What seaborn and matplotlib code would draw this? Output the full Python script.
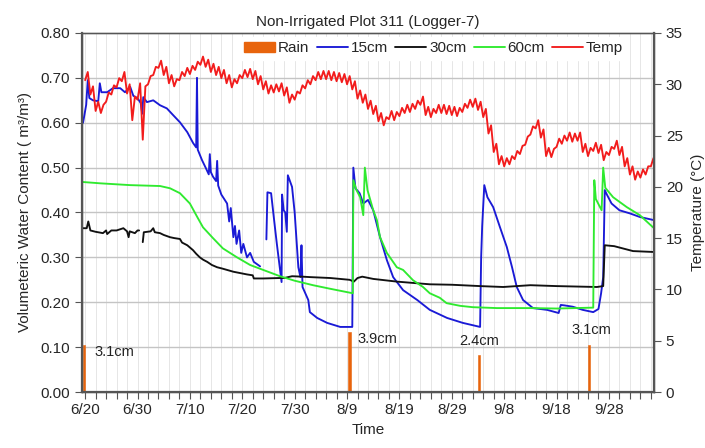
import numpy as np
import pandas as pd
import matplotlib
matplotlib.use("Agg")
import matplotlib.pyplot as plt
from matplotlib.patches import Patch
from matplotlib.lines import Line2D
import seaborn as sns

# ---------------- data (day 0 = 6/20) ----------------
tick_days = [0, 10, 20, 30, 40, 50, 60, 70, 80, 90, 100]
tick_labels = ["6/20", "6/30", "7/10", "7/20", "7/30", "8/9", "8/19", "8/29", "9/8", "9/18", "9/28"]

rain_days = [-0.2, 50.5, 75.2, 96.2]
rain_cm = [3.1, 3.9, 2.4, 3.1]
rain_labels = ["3.1cm", "3.9cm", "2.4cm", "3.1cm"]

nan = np.nan
days_15 = [-0.4, 0.2, 0.5, 0.8, 1.5, 2.5, 2.8, 3.1, 4.2, 5.3, 6.7, 7.6, 8.6, 9.2, 10.0, 10.6, 10.9, 11.1,
           11.8, 13.0, 14.3, 15.6, 16.8, 18.1, 19.5, 20.6, 21.2, 21.35, 21.5, 22.3, 23.0, 23.6, 23.8, 24.0,
           24.4, 25.0, 25.2, 25.4, 26.0, 27.1, 27.5, 27.8, 28.3, 28.6, 28.9, 29.4, 29.8, 30.2, 30.9, 31.5,
           32.2, 33.4, 34.0, 34.6, 34.8, 35.5, 36.3, 36.6, 37.5, 37.6, 37.9, 38.2, 38.5, 38.7, 39.5, 40.0,
           40.7, 41.1, 41.3, 41.5, 42.6, 42.9, 44.3, 46.2, 48.7, 51.0, 51.2, 51.6, 52.4, 53.1, 54.0, 55.0,
           56.3, 57.6, 58.8, 60.7, 63.4, 65.8, 69.1, 72.1, 75.4, 75.6, 75.8, 76.2, 76.8, 77.9, 79.2, 80.5,
           81.5, 82.4, 83.6, 85.5, 88.2, 90.4, 90.8, 91.5, 93.1, 95.0, 97.0, 98.0, 98.5, 98.9, 99.2, 99.6,
           100.5, 102.0, 104.0, 105.9, 108.6]
vwc_15 = [0.600, 0.640, 0.695, 0.655, 0.650, 0.648, 0.688, 0.668, 0.668, 0.677, 0.677, 0.668, 0.680, 0.660,
          0.655, 0.644, 0.620, 0.657, 0.646, 0.650, 0.639, 0.632, 0.617, 0.601, 0.579, 0.555, 0.545, 0.700,
          0.540, 0.517, 0.500, 0.485, 0.530, 0.490, 0.480, 0.470, 0.515, 0.460, 0.440, 0.420, 0.380, 0.410,
          0.345, 0.370, 0.330, 0.360, 0.310, 0.330, 0.300, 0.310, 0.290, 0.280, nan, 0.340, 0.445, 0.443,
          0.360, 0.330, 0.245, 0.440, 0.405, 0.400, 0.357, 0.483, 0.457, 0.400, 0.278, 0.256, 0.327, 0.234,
          0.205, 0.178, 0.165, 0.154, 0.145, 0.145, 0.500, 0.454, 0.443, 0.420, 0.428, 0.405, 0.345, 0.294,
          0.256, 0.227, 0.205, 0.183, 0.165, 0.154, 0.145, 0.300, 0.370, 0.461, 0.434, 0.412, 0.367, 0.323,
          0.278, 0.234, 0.205, 0.187, 0.183, 0.176, 0.194, 0.193, 0.190, 0.183, 0.178, 0.185, 0.220, 0.256,
          0.450, 0.440, 0.420, 0.405, 0.398, 0.390, 0.383]

days_30 = [-0.4, 0.3, 0.6, 1.0, 2.0, 3.4, 4.0, 4.2, 5.0, 6.0, 7.3, 8.0, 8.3, 8.5, 9.5, 10.0, 10.3, 10.6,
           11.0, 11.2, 12.5, 13.0, 13.3, 14.3, 15.0, 16.2, 17.0, 18.1, 18.5, 19.5, 20.0, 20.6, 21.2, 21.9,
           22.5, 23.3, 24.2, 25.2, 26.2, 27.1, 28.3, 29.6, 30.9, 32.0, 32.2, 34.0, 37.2, 38.0, 39.5, 41.5,
           43.0, 46.8, 50.5, 51.3, 52.0, 52.9, 55.0, 59.5, 65.8, 70.0, 75.4, 79.8, 85.0, 90.0, 97.7, 98.9,
           99.2, 101.0, 104.6, 108.6]
vwc_30 = [0.365, 0.365, 0.380, 0.360, 0.357, 0.354, 0.360, 0.352, 0.360, 0.360, 0.365, 0.358, 0.345, 0.358,
          0.354, 0.360, 0.360, nan, 0.334, 0.356, 0.358, 0.365, 0.356, 0.354, 0.350, 0.345, 0.343, 0.341,
          0.333, 0.327, 0.322, 0.316, 0.308, 0.300, 0.295, 0.290, 0.283, 0.278, 0.275, 0.272, 0.268, 0.265,
          0.262, 0.260, 0.253, 0.253, 0.254, 0.254, 0.258, 0.257, 0.256, 0.254, 0.250, 0.246, 0.254, 0.257,
          0.252, 0.246, 0.240, 0.239, 0.236, 0.234, 0.238, 0.236, 0.234, 0.236, 0.327, 0.325, 0.314, 0.312]

days_60 = [-0.5, 2.9, 8.6, 14.3, 16.2, 18.1, 20.0, 21.4, 22.5, 24.4, 26.3, 29.0, 31.5, 34.0, 37.2, 40.0,
           43.5, 46.8, 51.1, 51.2, 51.8, 52.5, 53.1, 53.4, 53.9, 55.0, 55.7, 56.3, 57.6, 59.5, 60.7, 62.6,
           64.5, 65.8, 67.7, 69.0, 71.6, 74.0, 78.6, 85.0, 90.0, 97.0, 97.2, 97.5, 98.6, 98.9, 99.3, 100.8,
           103.4, 105.9, 108.6]
vwc_60 = [0.468, 0.465, 0.461, 0.459, 0.454, 0.443, 0.420, 0.390, 0.367, 0.343, 0.320, 0.300, 0.283, 0.272,
          0.258, 0.248, 0.238, 0.230, 0.220, 0.472, 0.450, 0.434, 0.394, 0.500, 0.450, 0.405, 0.383, 0.345,
          0.310, 0.278, 0.272, 0.249, 0.234, 0.220, 0.210, 0.198, 0.192, 0.189, 0.187, 0.187, 0.186, 0.188,
          0.472, 0.430, 0.405, 0.500, 0.455, 0.434, 0.412, 0.394, 0.365]

# temperature, two readings per day (night / afternoon), starting at day 0
temp_start_day = 0.0
temp_step_day = 0.5
temp = [30.4, 31.2, 29.0, 29.8, 27.4, 28.3, 27.2, 28.0, 28.3, 29.2, 29.0, 29.9, 29.7, 30.6, 30.3, 31.2,
        29.1, 30.0, 26.5, 28.8, 28.5, 30.1, 24.6, 29.8, 30.0, 30.8, 30.9, 31.7, 31.6, 32.3, 30.9, 31.7,
        30.1, 30.9, 29.8, 30.5, 30.4, 31.2, 30.8, 31.6, 31.0, 31.8, 31.4, 32.2, 31.9, 32.7, 31.7, 32.4,
        31.2, 32.0, 30.9, 31.7, 30.6, 31.4, 30.1, 30.9, 29.7, 30.5, 30.1, 30.9, 30.6, 31.4, 30.7, 31.5,
        30.5, 31.3, 30.0, 30.8, 29.5, 30.3, 29.1, 29.9, 29.2, 30.0, 29.3, 30.1, 28.9, 29.7, 28.2, 29.0,
        28.5, 29.3, 29.1, 29.9, 29.6, 30.4, 30.0, 30.8, 30.4, 31.2, 30.5, 31.3, 30.5, 31.3, 30.4, 31.2,
        30.3, 31.1, 30.2, 31.0, 30.0, 30.8, 29.5, 30.3, 28.6, 29.4, 28.2, 29.0, 27.6, 28.4, 27.1, 27.9,
        26.4, 27.2, 26.0, 26.8, 26.6, 27.4, 26.5, 27.3, 26.9, 27.7, 27.2, 28.0, 27.3, 28.1, 27.6, 28.4,
        28.0, 28.8, 27.0, 27.8, 26.8, 27.6, 27.2, 28.0, 27.2, 28.0, 27.1, 27.9, 27.0, 27.8, 26.9, 27.7,
        27.3, 28.1, 27.7, 28.5, 27.8, 28.6, 27.5, 28.3, 26.8, 27.6, 25.2, 26.0, 23.4, 24.2, 22.2, 23.0,
        22.0, 22.8, 22.2, 23.0, 22.7, 23.5, 23.2, 24.0, 24.1, 24.9, 25.1, 25.9, 25.7, 26.5, 24.8, 25.6,
        23.0, 23.8, 22.9, 23.7, 23.9, 24.7, 24.2, 25.0, 24.5, 25.3, 24.4, 25.2, 24.5, 25.3, 23.4, 24.2,
        23.0, 23.8, 23.5, 24.3, 23.3, 24.1, 22.6, 23.4, 23.1, 23.9, 23.7, 24.5, 23.1, 23.9, 22.0, 22.8,
        21.2, 22.0, 20.7, 21.5, 20.9, 21.7, 21.2, 22.0, 22.0, 22.8]

# ---------------- style ----------------
sns.set_theme(style="white")
plt.rcParams["font.family"] = ["Liberation Sans", "DejaVu Sans"]

C_RAIN = "#E8640C"
C_15 = "#1A1AD6"
C_30 = "#111111"
C_60 = "#2FEA2F"
C_T = "#F21C1C"
RAIN_SCALE = 0.034   # cm of rain -> height on VWC axis


def segments(days, vals):
    df = pd.DataFrame({"day": days, "v": vals})
    df["seg"] = df["v"].isna().cumsum()
    return df.dropna()


fig = plt.figure(figsize=(7.05, 4.48), dpi=100)
ax = fig.add_axes([82 / 705, 1 - 392 / 448, (654 - 82) / 705, (392 - 33) / 448])
ax2 = ax.twinx()

# grid
for d in np.arange(0, 109, 2):
    ax.axvline(d, color="#e6e6e6", lw=0.7, zorder=0)
for yv in np.arange(0.1, 0.8, 0.1):
    ax.axhline(yv, color="#c4c4c4", lw=1.0, zorder=0)

# rain bars
ax.bar(rain_days, np.array(rain_cm) * RAIN_SCALE, width=0.45, color=C_RAIN,
       edgecolor=C_RAIN, linewidth=0.4, zorder=2)
lab_style = [(1.9, -0.016, "left"), (1.5, -0.015, "left"), (0.0, 0.033, "center"), (0.5, 0.033, "center")]
for d, r, t, (dx, dy, ha) in zip(rain_days, rain_cm, rain_labels, lab_style):
    ax.text(d + dx, r * RAIN_SCALE + dy, t, ha=ha, va="center", fontsize=10.5, color="#222222", zorder=5)

lw = 1.35
for days, vals, col in [(days_15, vwc_15, C_15), (days_30, vwc_30, C_30), (days_60, vwc_60, C_60)]:
    sns.lineplot(data=segments(days, vals), x="day", y="v", units="seg", estimator=None,
                 color=col, lw=lw, ax=ax, legend=False, zorder=3)

temp_days = temp_start_day + temp_step_day * np.arange(len(temp))
sns.lineplot(x=temp_days, y=temp, color=C_T, lw=lw, ax=ax2, legend=False, estimator=None)

# axes
xmin, xmax = -0.6, 108.6
ax.set_xlim(xmin, xmax)
ax.set_ylim(0, 0.8)
ax2.set_ylim(0, 35)
ax.set_xticks(tick_days)
ax.set_xticklabels(tick_labels)
ax.set_xticks(np.arange(0, 109, 2), minor=True)
ax.set_yticks(np.arange(0, 0.81, 0.1))
ax.set_yticklabels([f"{v:.2f}" for v in np.arange(0, 0.81, 0.1)])
ax2.set_yticks(np.arange(0, 36, 5))
ax2.grid(False)

for a in (ax, ax2):
    for s in a.spines.values():
        s.set_color("#555555")
        s.set_linewidth(1.0)
ax.spines["left"].set_linewidth(1.6)
ax2.spines["right"].set_linewidth(1.6)
ax.spines["bottom"].set_linewidth(1.6)
ax.spines["top"].set_color("#888888")

ax.tick_params(axis="x", which="both", direction="out", length=5, width=0.8, color="#555555",
               labelsize=11, pad=3, bottom=True)
ax.tick_params(axis="y", direction="out", length=5, width=0.8, color="#555555", labelsize=11, left=True)
ax2.tick_params(axis="y", direction="out", length=5, width=0.8, color="#555555", labelsize=11, right=True)

ax.set_xlabel("Time", fontsize=11, labelpad=4)
ax.set_ylabel("Volumeteric Water Content ( m³/m³)", fontsize=11, labelpad=6)
ax2.set_ylabel("Temperature (°C)", fontsize=11, labelpad=6)
ax.set_title("Non-Irrigated Plot 311 (Logger-7)", fontsize=11, pad=5)

handles = [Patch(facecolor=C_RAIN, edgecolor=C_RAIN),
           Line2D([], [], color=C_15, lw=lw), Line2D([], [], color=C_30, lw=lw),
           Line2D([], [], color=C_60, lw=lw), Line2D([], [], color=C_T, lw=lw)]
leg = ax2.legend(handles, ["Rain", "15cm", "30cm", "60cm", "Temp"], ncol=5, loc="center",
                 bbox_to_anchor=(0.615, 0.957), frameon=True, fontsize=11, handlelength=2.0,
                 handletextpad=0.2, columnspacing=0.5, borderpad=0.3, fancybox=False)
leg.get_frame().set_edgecolor("white")
leg.get_frame().set_facecolor("white")
leg.get_frame().set_alpha(1.0)

fig.savefig("out.png", dpi=100, facecolor="white")
